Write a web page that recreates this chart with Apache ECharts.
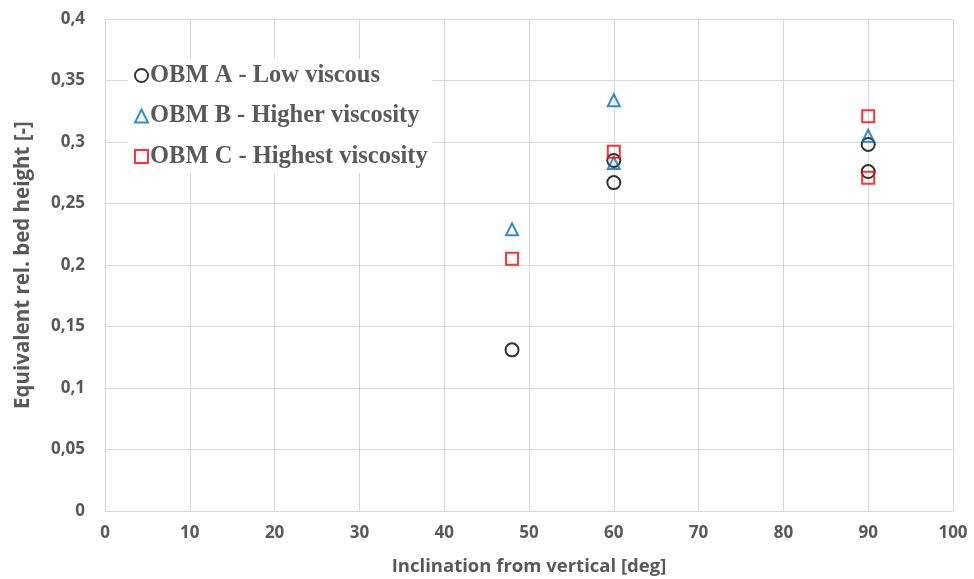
<!DOCTYPE html>
<html><head><meta charset="utf-8">
<script src="https://cdn.jsdelivr.net/npm/echarts@6/dist/echarts.min.js"></script>
<style>html,body{margin:0;padding:0;background:#fff}#c{width:974px;height:579px}</style>
</head><body><div id="c"></div>
<script>
const seriesNames = ['OBM A - Low viscous', 'OBM B - Higher viscosity', 'OBM C - Highest viscosity'];
const obmA = [[48, 0.131], [60, 0.285], [60, 0.267], [90, 0.298], [90, 0.276]];
const obmB = [[48, 0.229], [60, 0.334], [60, 0.283], [90, 0.305]];
const obmC = [[48, 0.205], [60, 0.292], [90, 0.321], [90, 0.271]];
const xTitle = 'Inclination from vertical [deg]';
const yTitle = 'Equivalent rel. bed height [-]';

const chart = echarts.init(document.getElementById('c'));
const tickStyle = {color: '#595959', fontSize: 17, fontWeight: 'bold', fontFamily: 'Open Sans'};
const xTitleStyle = {color: '#595959', fontSize: 18.5, fontWeight: 'bold', fontFamily: 'Open Sans'};
const yTitleStyle = {color: '#595959', fontSize: 20.5, fontWeight: 'bold', fontFamily: 'Open Sans'};
chart.setOption({
  animation: false,
  backgroundColor: '#fff',
  grid: {left: 105, right: 21, top: 19, bottom: 68, containLabel: false, outerBoundsMode: 'none'},
  legend: {
    orient: 'vertical', left: 128, top: 59,
    backgroundColor: '#fff', padding: [4, 4, 4, 6],
    itemWidth: 13, itemHeight: 13, itemGap: 15.5,
    textStyle: {color: '#595959', fontSize: 24.5, fontWeight: 'bold', fontFamily: 'Liberation Serif', lineHeight: 20, padding: [0, 0, 0, -3]},
    data: seriesNames
  },
  xAxis: {
    type: 'value', min: 0, max: 100, interval: 10,
    name: xTitle, nameLocation: 'middle', nameGap: 46,
    nameTextStyle: xTitleStyle,
    axisLine: {show: true, lineStyle: {color: '#d9d9d9'}},
    axisTick: {show: false},
    axisLabel: Object.assign({margin: 14}, tickStyle),
    splitLine: {show: true, lineStyle: {color: '#d9d9d9'}}
  },
  yAxis: {
    type: 'value', min: 0, max: 0.4, interval: 0.05,
    name: yTitle, nameLocation: 'middle', nameGap: 71,
    nameTextStyle: yTitleStyle,
    axisLine: {show: true, lineStyle: {color: '#d9d9d9'}},
    axisTick: {show: false},
    axisLabel: Object.assign({margin: 20, formatter: v => String(+v.toFixed(2)).replace('.', ',')}, tickStyle),
    splitLine: {show: true, lineStyle: {color: '#d9d9d9'}}
  },
  series: [
    {name: seriesNames[0], type: 'scatter', data: obmA, symbol: 'circle', symbolSize: 13,
     itemStyle: {color: 'rgba(255,255,255,0)', borderColor: '#000', borderWidth: 2}},
    {name: seriesNames[1], type: 'scatter', data: obmB, symbol: 'triangle', symbolSize: 12,
     itemStyle: {color: 'rgba(255,255,255,0)', borderColor: '#0070C0', borderWidth: 2}},
    {name: seriesNames[2], type: 'scatter', data: obmC, symbol: 'rect', symbolSize: 12,
     itemStyle: {color: 'rgba(255,255,255,0)', borderColor: '#FF0000', borderWidth: 2}}
  ]
});
</script></body></html>
